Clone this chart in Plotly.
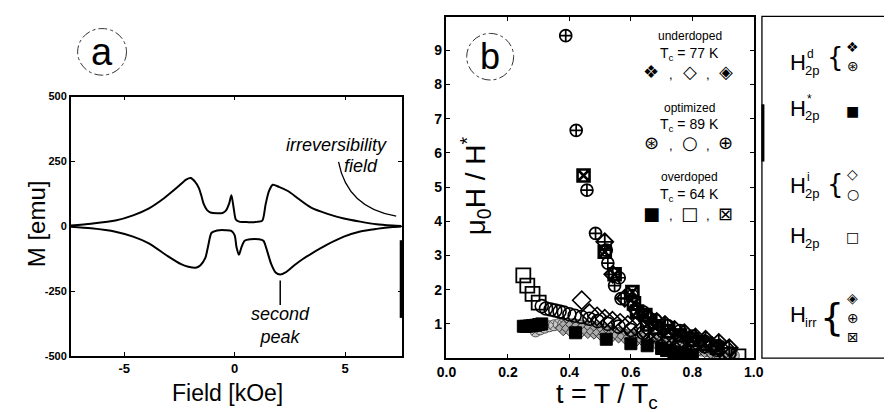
import plotly.graph_objects as go

W, H = 892, 412

# ---------------- Panel a: hysteresis loop ----------------
field_up = [-7.42, -6.5, -5.4, -4.6, -3.9, -3.2, -2.6, -2.2, -1.99, -1.8, -1.62, -1.5, -1.4, -1.25,
            -1.1, -0.8, -0.55, -0.4, -0.25, -0.15, -0.05, 0.05, 0.2, 0.6, 1.0, 1.25, 1.4, 1.55,
            1.72, 2.0, 2.43, 2.9, 3.46, 4.2, 4.94, 5.68, 6.42, 7.15, 7.55]
m_up = [3, 10, 22, 42, 68, 108, 150, 180, 186, 172, 147, 115, 85, 62,
        53, 50, 51, 60, 88, 120, 72, 26, 18, 16, 17, 22, 85, 135,
        160, 152, 135, 105, 72, 48, 30, 18, 8, 3, 1]

field_dn = [-7.42, -6.5, -5.4, -4.6, -3.91, -3.03, -2.43, -2.1, -1.77, -1.55, -1.33, -1.2, -1.05,
            -0.8, -0.4, -0.15, 0.0, 0.08, 0.19, 0.3, 0.45, 0.7, 1.1, 1.3, 1.45, 1.65, 1.85,
            2.06, 2.3, 2.7, 3.1, 3.46, 4.2, 4.94, 5.68, 6.42, 7.15, 7.55]
m_dn = [-2, -8, -21, -40, -65, -115, -146, -156, -160, -150, -122, -75, -25,
        -16, -15, -18, -35, -80, -110, -82, -56, -50, -50, -56, -90, -145, -178,
        -186, -178, -150, -125, -106, -70, -40, -20, -10, -3, -1]

# ---------------- Panel b: mu0 H / H* vs t ----------------
# underdoped, Tc = 77 K
t_ud_d = [0.38, 0.40, 0.42, 0.44, 0.46, 0.48, 0.50, 0.52, 0.54, 0.56, 0.58, 0.60, 0.62, 0.64, 0.66,
          0.68, 0.70, 0.72, 0.74, 0.76, 0.78, 0.80, 0.82, 0.84, 0.86, 0.88, 0.90, 0.92]
h_ud_d = [0.88, 0.87, 0.85, 0.83, 0.80, 0.78, 0.75, 0.72, 0.70, 0.67, 0.64, 0.61, 0.58, 0.55, 0.52,
          0.49, 0.46, 0.43, 0.40, 0.37, 0.34, 0.31, 0.28, 0.24, 0.21, 0.18, 0.14, 0.10]
t_ud_i = [0.44, 0.465, 0.49, 0.515, 0.54, 0.565, 0.59, 0.615, 0.64, 0.665, 0.69, 0.715, 0.74, 0.765,
          0.79, 0.815, 0.84, 0.865, 0.89, 0.915]
h_ud_i = [1.69, 1.31, 1.22, 1.15, 1.09, 1.03, 0.97, 0.92, 0.86, 0.81, 0.75, 0.70, 0.64, 0.58,
          0.53, 0.47, 0.41, 0.35, 0.29, 0.22]
t_ud_irr = [0.515, 0.541, 0.58, 0.62, 0.655, 0.684, 0.711, 0.742, 0.774, 0.81, 0.843, 0.886, 0.92]
h_ud_irr = [3.40, 2.45, 1.75, 1.40, 1.20, 1.07, 0.98, 0.84, 0.74, 0.62, 0.55, 0.46, 0.30]

# optimized, Tc = 89 K
t_op_d = [0.29, 0.305, 0.32, 0.335, 0.35, 0.365, 0.38, 0.395, 0.41, 0.425, 0.44, 0.455, 0.47, 0.485,
          0.50, 0.515, 0.53, 0.545, 0.56, 0.575, 0.59, 0.605, 0.62, 0.635, 0.65, 0.665, 0.68, 0.695,
          0.71, 0.725, 0.74, 0.755, 0.77, 0.785, 0.80, 0.815, 0.83, 0.845, 0.86, 0.875, 0.89, 0.905,
          0.92, 0.935]
h_op_d = [0.78, 0.84, 0.89, 0.93, 0.96, 0.99, 1.00, 1.00, 0.99, 0.97, 0.95, 0.93, 0.90, 0.88,
          0.85, 0.82, 0.79, 0.76, 0.73, 0.70, 0.67, 0.64, 0.61, 0.58, 0.55, 0.52, 0.49, 0.46,
          0.43, 0.40, 0.37, 0.35, 0.32, 0.30, 0.27, 0.25, 0.22, 0.20, 0.17, 0.15, 0.13, 0.11,
          0.09, 0.07]
t_op_i = [0.31, 0.324, 0.339, 0.354, 0.368, 0.382, 0.40, 0.417, 0.44, 0.465, 0.492, 0.525, 0.56,
          0.60, 0.64, 0.68, 0.72, 0.76, 0.80, 0.84, 0.88, 0.92]
h_op_i = [1.52, 1.45, 1.42, 1.39, 1.36, 1.33, 1.28, 1.24, 1.20, 1.15, 1.08, 1.00, 0.92,
          0.82, 0.74, 0.66, 0.58, 0.50, 0.42, 0.34, 0.24, 0.14]
t_op_irr = [0.388, 0.422, 0.457, 0.485, 0.52, 0.525, 0.547, 0.562, 0.568, 0.605, 0.64, 0.68, 0.72,
            0.76, 0.80, 0.84, 0.88]
h_op_irr = [9.43, 6.66, 4.91, 3.65, 3.16, 2.78, 2.12, 2.35, 1.74, 1.83, 1.35, 1.12, 0.95,
            0.80, 0.64, 0.50, 0.36]

# overdoped, Tc = 64 K
t_ov_s = [0.25, 0.26, 0.27, 0.28, 0.29, 0.30, 0.31, 0.42, 0.52, 0.60, 0.653, 0.70, 0.716, 0.74,
          0.76, 0.78, 0.80]
h_ov_s = [0.93, 0.93, 0.94, 0.95, 0.96, 0.98, 1.00, 0.74, 0.55, 0.42, 0.36, 0.28, 0.22, 0.18,
          0.15, 0.11, 0.08]
t_ov_p = [0.25, 0.263, 0.28, 0.30, 0.95]
h_ov_p = [2.42, 2.12, 1.88, 1.62, 0.05]
t_ov_irr = [0.446, 0.515, 0.547, 0.605, 0.61, 0.62, 0.647, 0.653, 0.679, 0.72, 0.76, 0.80, 0.84, 0.88]
h_ov_irr = [5.34, 3.11, 2.45, 1.93, 1.60, 1.36, 1.26, 0.98, 0.89, 0.78, 0.66, 0.54, 0.42, 0.30]

# axis ticks
a_xticks = [-5, 0, 5]
a_yticks = [-500, -250, 0, 250, 500]
b_xticks = [0.0, 0.2, 0.4, 0.6, 0.8, 1.0]
b_yticks = [1, 2, 3, 4, 5, 6, 7, 8, 9]


def px(x):
    return x / W


def py(y):
    return 1 - y / H


fig = go.Figure()

line_style = dict(color="black", width=2, shape="spline", smoothing=0.7)
fig.add_trace(go.Scatter(x=field_up, y=m_up, mode="lines", line=line_style, xaxis="x", yaxis="y"))
fig.add_trace(go.Scatter(x=field_dn, y=m_dn, mode="lines", line=line_style, xaxis="x", yaxis="y"))


def mk(t, h, symbol, size, fill, lcol="black", lw=1.3):
    fig.add_trace(go.Scatter(x=t, y=h, mode="markers", xaxis="x2", yaxis="y2",
                             marker=dict(symbol=symbol, size=size, color=fill,
                                         line=dict(color=lcol, width=lw))))


mk(t_op_d, h_op_d, "circle-x", 11, "#c8c8c8", "#555", 1)
mk(t_ud_d, h_ud_d, "diamond-x", 12, "#aaaaaa", "#333", 1)
mk(t_ov_s, h_ov_s, "square", 12, "black", "black", 1)
mk(t_op_i, h_op_i, "circle-open", 13, "black", "black", 1.6)
mk(t_ud_i, h_ud_i, "diamond-open", 14, "black", "black", 1.6)
mk(t_ov_p, h_ov_p, "square-open", 14, "black", "black", 1.8)
mk(t_ud_irr, h_ud_irr, "diamond-cross-open", 13, "black", "black", 1.8)
mk(t_ov_irr, h_ov_irr, "square-x-open", 12, "black", "black", 2.6)
mk(t_op_irr, h_op_irr, "circle-cross-open", 12, "black", "black", 1.7)

axis_common = dict(showline=True, linecolor="black", linewidth=1.5, mirror="ticks",
                   ticks="inside", ticklen=4, tickcolor="black", showgrid=False, zeroline=False)

fig.update_layout(
    width=W, height=H, margin=dict(l=0, r=0, t=0, b=0),
    paper_bgcolor="white", plot_bgcolor="white", showlegend=False,
    xaxis=dict(domain=[px(54), px(392.3)], range=[-7.42, 7.55], tickvals=a_xticks,
               ticktext=["<b>%d</b>" % v for v in a_xticks], anchor="y",
               tickfont=dict(family="Arial", size=13, color="black"), **axis_common),
    yaxis=dict(domain=[py(352.3), py(85)], range=[-500, 500], tickvals=a_yticks,
               ticktext=["<b>%d</b>" % v for v in a_yticks], anchor="x",
               tickfont=dict(family="Arial", size=11, color="black"), **axis_common),
    xaxis2=dict(domain=[px(438.3), px(752.7)], range=[0, 1.0], tickvals=b_xticks,
                ticktext=["<b>%.1f</b>" % v for v in b_xticks], anchor="y2",
                tickfont=dict(family="Arial", size=14, color="black"), **axis_common),
    yaxis2=dict(domain=[py(354.4), py(3.3)], range=[0, 9.97], tickvals=b_yticks,
                ticktext=["<b>%d</b>" % v for v in b_yticks], anchor="x2",
                tickfont=dict(family="Arial", size=14, color="black"), **axis_common),
)

ann = []


def text(x, y, s, size, ref="paper", italic=False, angle=0, family="Arial", xanchor="center", color="black"):
    d = dict(text=s, showarrow=False, font=dict(family=family, size=size, color=color,
                                                style="italic" if italic else "normal"),
             xanchor=xanchor, yanchor="middle", textangle=angle)
    if ref == "paper":
        d.update(x=px(x), y=py(y), xref="paper", yref="paper")
    else:
        d.update(x=x, y=y, xref="x", yref="y")
    ann.append(d)


# panel a titles and notes
text(214, 390, "Field [kOe]", 23)
text(19, 216, "M [emu]", 24, angle=-90)
text(4.62, 315, "irreversibility", 18, ref="a", italic=True)
text(5.73, 233, "field", 18, ref="a", italic=True)
text(2.06, -383, "second<br>peak", 18, ref="a", italic=True)
text(86, 39, "a", 38)

# panel b titles
text(602, 393, "t = T / T<sub>c</sub>", 27)
text(468, 177, "μ<sub>0</sub>H / H<sup>*</sup>", 28, angle=-90)
text(483, 44, "b", 36)

# panel b inline legend
g = "DejaVu Sans"
rows = [(23, 41, 59, "underdoped", "T<sub>c</sub> = 77 K", ["❖", "◇", "◈"]),
        (97, 114, 132, "optimized", "T<sub>c</sub> = 89 K", ["⊛", "○", "⊕"]),
        (168, 186, 205, "overdoped", "T<sub>c</sub> = 64 K", ["■", "□", "⊠"])]
for y1, y2, y3, lab, tc, syms in rows:
    text(687, y1, lab, 12)
    text(687, y2, tc, 14)
    for xs, s in zip([648, 687, 724], syms):
        text(xs, y3, s, 18, family=g)
    text(668, y3 + 3, ",", 13)
    text(706, y3 + 3, ",", 13)


# right legend panel
def hlabel(y, sup, sub):
    text(788, y, "H", 22, xanchor="left")
    if sup:
        text(805, y - 9, sup, 12, xanchor="left")
    text(803, y + 8, sub, 13, xanchor="left")


hlabel(50, "d", "2p")
text(836, 44, "{", 26, family=g)
text(854, 34, "❖", 14, family=g)
text(854, 54, "⊛", 14, family=g)
hlabel(97, "*", "2p")
text(854, 100, "■", 14, family=g)
hlabel(177, "i", "2p")
text(836, 175, "{", 26, family=g)
text(854, 165, "◇", 14, family=g)
text(854, 185, "○", 14, family=g)
hlabel(228, None, "2p")
text(854, 230, "□", 14, family=g)
hlabel(310, None, "irr")
text(833, 312, "{", 38, family=g)
text(854, 293, "◈", 14, family=g)
text(854, 313, "⊕", 14, family=g)
text(854, 333, "⊠", 14, family=g)

fig.update_layout(annotations=ann)

shapes = [
    # dashed label circles
    dict(type="circle", xref="paper", yref="paper", x0=px(61), x1=px(111), y0=py(63), y1=py(15),
         line=dict(color="#333", width=1, dash="dashdot")),
    dict(type="circle", xref="paper", yref="paper", x0=px(459), x1=px(507), y0=py(68), y1=py(20),
         line=dict(color="#333", width=1, dash="dashdot")),
    # irreversibility pointer
    dict(type="path", xref="x", yref="y", path="M 4.70,248 Q 5.1,70 7.31,39",
         line=dict(color="black", width=1.3)),
    # second peak pointer
    dict(type="line", xref="x", yref="y", x0=2.06, x1=2.06, y0=-209, y1=-303,
         line=dict(color="black", width=1.5)),
    # right legend box
    dict(type="rect", xref="paper", yref="paper", x0=px(761), x1=px(900), y0=py(354.4), y1=py(2.5),
         line=dict(color="black", width=1.3)),
    # scan artefacts (thick frame segments)
    dict(type="line", xref="paper", yref="paper", x0=px(392), x1=px(392), y0=py(233), y1=py(313),
         line=dict(color="black", width=3)),
    dict(type="line", xref="paper", yref="paper", x0=px(762), x1=px(762), y0=py(93), y1=py(152),
         line=dict(color="black", width=3)),
]
fig.update_layout(shapes=shapes)

fig.write_html("out.html")
